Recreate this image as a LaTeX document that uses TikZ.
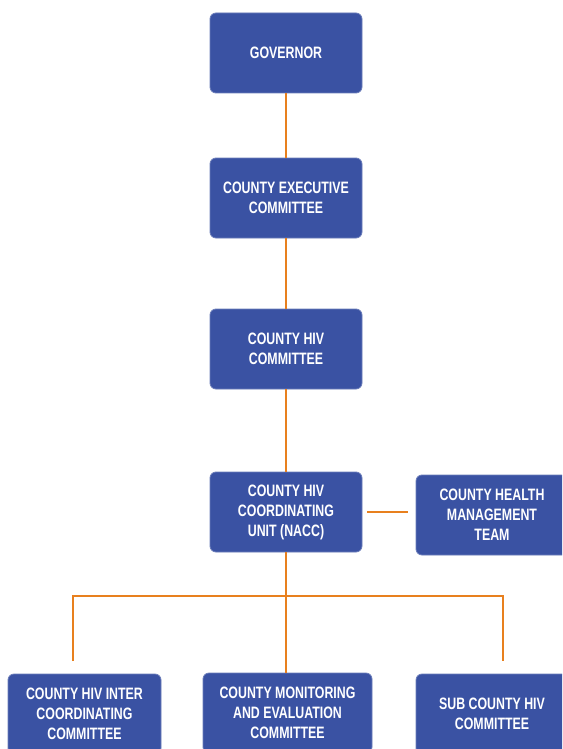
\documentclass[tikz,border=0pt]{standalone}
\usepackage{fontspec}
\setmainfont{Liberation Sans}[FakeStretch=0.75]
\usepackage{xcolor}
\usepackage{tikz}
\usetikzlibrary{calc, positioning}
\definecolor{boxblue}{HTML}{3A52A3}
\definecolor{linkorange}{HTML}{E8801E}
\tikzset{
	orgbox/.style={rectangle, rounded corners=6pt, fill=boxblue, draw=boxblue!75!white, line width=0.8pt,
		minimum width=152pt, minimum height=80pt, inner sep=0pt, text=white, align=center,
		font=\fontsize{16.5}{20}\selectfont\bfseries},
	link/.style={linkorange, line width=1.3pt}
}

\begin{document}
\begin{tikzpicture}[x=1pt, y=-1pt]

	\clip (0,0) rectangle (562,749);
	\fill[white] (0,0) rectangle (562,749);

	\node[orgbox] (gov) at (286,53) {GOVERNOR};
	\node[orgbox] (exec) at (286,198) {COUNTY EXECUTIVE\\COMMITTEE};
	\node[orgbox] (hivc) at (286,349) {COUNTY HIV\\COMMITTEE};
	\node[orgbox] (nacc) at (286,512) {COUNTY HIV\\COORDINATING\\UNIT (NACC)};
	\node[orgbox] (chmt) at (492,515) {COUNTY HEALTH\\MANAGEMENT\\TEAM};

	\node[orgbox, minimum width=153pt] (inter) at (84.5,714) {COUNTY HIV INTER\\COORDINATING\\COMMITTEE};
	\node[orgbox, minimum width=169pt] (mande) at (287.5,713) {COUNTY MONITORING\\AND EVALUATION\\COMMITTEE};
	\node[orgbox] (sub) at (492,714) {SUB COUNTY HIV\\COMMITTEE};

	\coordinate (bus) at (286,596);
	\coordinate (lend) at (73,661);
	\coordinate (rend) at (503,661);

	\draw[link] (gov) -- (exec);
	\draw[link] (exec) -- (hivc);
	\draw[link] (hivc) -- (nacc);
	\draw[link, shorten <=5pt, shorten >=8pt] (nacc.east) -- (nacc.east -| chmt.west);
	\draw[link] (nacc.south) -- (nacc.south |- mande.north);
	\draw[link] (lend) -- (lend |- bus) -- (rend |- bus) -- (rend);

\end{tikzpicture}
\end{document}
